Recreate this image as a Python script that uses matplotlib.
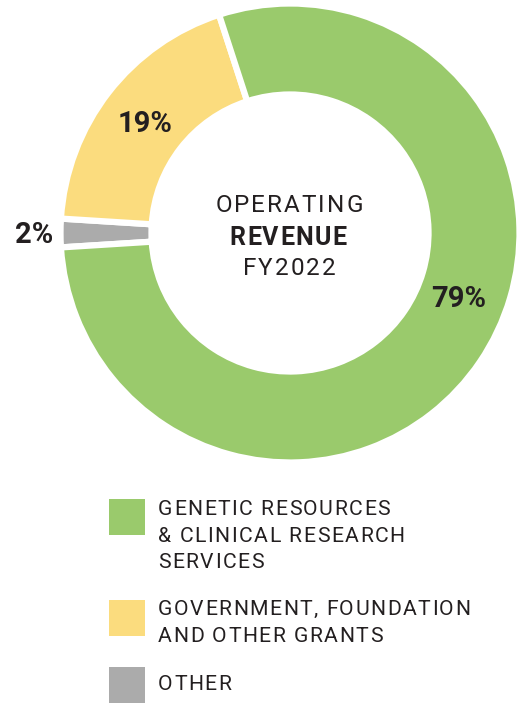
import matplotlib
matplotlib.use('Agg')
import matplotlib.pyplot as plt
from matplotlib.font_manager import FontProperties

# Datos del gráfico
categorias = ["OTHER",
              "GOVERNMENT, FOUNDATION\nAND OTHER GRANTS",
              "GENETIC RESOURCES\n& CLINICAL RESEARCH\nSERVICES"]
valores = [2, 19, 79]
etiquetas = ["2%", "19%", "79%"]
colores = ["#ababab", "#fbdc7e", "#9aca6c"]
titulo = ["OPERATING", "REVENUE", "FY2022"]

W, H = 520, 704
TXT = "#231f20"

fig = plt.figure(figsize=(W / 100, H / 100), dpi=100)
ax = fig.add_axes([0, 0, 1, 1])
renderer = fig.canvas.get_renderer()

def Y(y):
    # coordenadas en pixeles desde arriba
    return H - y

def ancho(s, fp):
    w, h, d = renderer.get_text_width_height_descent(s, fp, ismath=False)
    return w

def texto_espaciado(x, y, s, fp, track, ha="left"):
    # texto con espaciado entre letras
    ref = ancho("H", fp)
    pos = [ancho(s[:i] + "H", fp) - ref + i * track for i in range(len(s))]
    total = ancho(s, fp) + (len(s) - 1) * track
    x0 = x - total / 2 if ha == "center" else x
    for p, ch in zip(pos, s):
        if ch != " ":
            ax.text(x0 + p, Y(y), ch, ha="left", va="baseline",
                    fontproperties=fp, color=TXT)

cx, cy, r = 290, 233, 229.5
ax.pie(valores, colors=colores, startangle=180 + 3.6 * valores[0] / 2,
       counterclock=False, center=(cx, Y(cy)), radius=r,
       wedgeprops=dict(width=91, edgecolor="white", linewidth=4.5))
ax.set_xlim(0, W)
ax.set_ylim(0, H)
ax.set_aspect("equal")
ax.axis("off")

# Porcentajes
pos_etiquetas = [(34, 243), (145, 132), (459, 307)]
for (x, y), txt in zip(pos_etiquetas, etiquetas):
    ax.text(x, Y(y), txt, ha="center", va="baseline", fontsize=21,
            fontweight="bold", family="Roboto", color=TXT)

# Texto central
fp_c = FontProperties(family="Roboto", size=17.5)
fp_cb = FontProperties(family="Roboto", size=18, weight="bold")
texto_espaciado(cx - 1, 212, titulo[0], fp_c, 2.0, ha="center")
texto_espaciado(cx - 2, 245, titulo[1], fp_cb, 1.3, ha="center")
texto_espaciado(cx - 1, 275, titulo[2], fp_c, 2.0, ha="center")

# Leyenda
fp_l = FontProperties(family="Roboto", size=15.2)
cajas_y = [667, 600, 499]
lineas_y = [[690], [615, 642], [515, 541.5, 567.5]]
for cat, col, by, ly in zip(categorias, colores, cajas_y, lineas_y):
    ax.add_patch(plt.Rectangle((109, Y(by + 36)), 36, 36, color=col, lw=0))
    for linea, yy in zip(cat.split("\n"), ly):
        texto_espaciado(158, yy, linea, fp_l, 1.5)

fig.savefig("out.png", dpi=100)
